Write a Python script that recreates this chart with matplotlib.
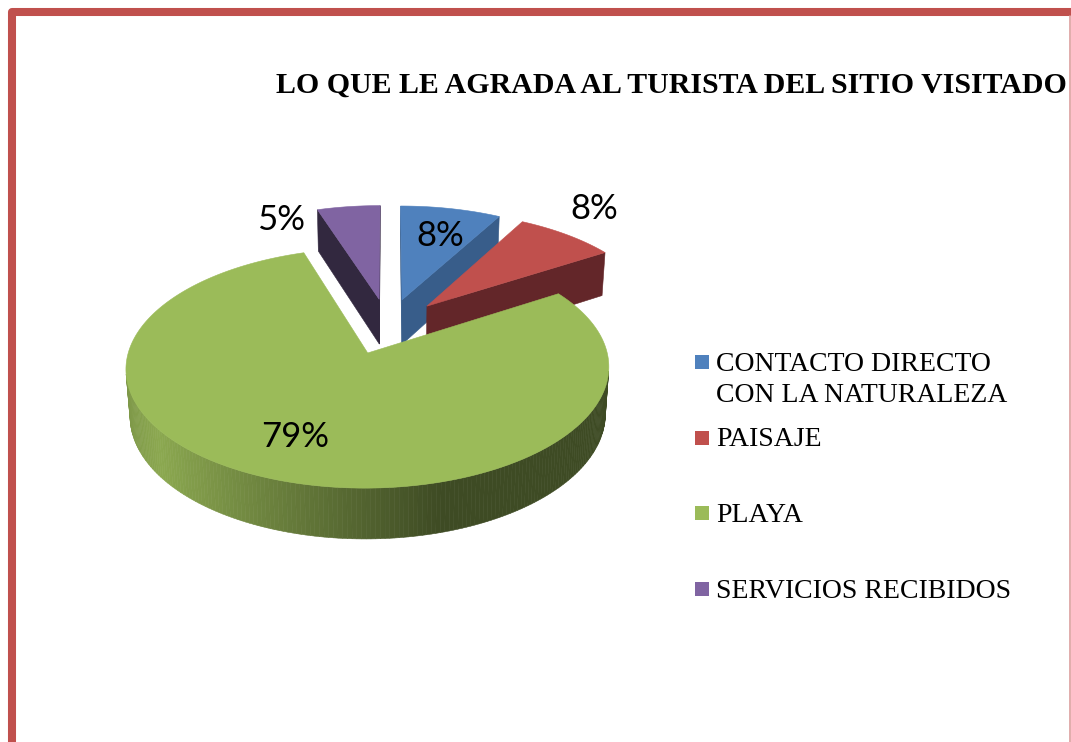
import numpy as np
import matplotlib.pyplot as plt
from matplotlib.patches import Polygon, Rectangle
from matplotlib.lines import Line2D
from matplotlib.colors import to_rgb


titulo = 'LO QUE LE AGRADA AL TURISTA DEL SITIO VISITADO'
categorias = ['CONTACTO DIRECTO\nCON LA NATURALEZA', 'PAISAJE', 'PLAYA', 'SERVICIOS RECIBIDOS']
porcentajes = [8, 8, 79, 5]

colores = ['#4F81BD', '#C0504D', '#9BBB59', '#8064A2']
colores_corte = ['#385D8A', '#632629', '#6E8A3A', '#32283F']
# posicion de la etiqueta: radio y giro (grados) respecto al angulo medio
pos_etiqueta = [(0.68, -1.5), (1.33, 3.6), (0.71, -2.6), (0.96, 21)]

# camara del pastel 3d (pixeles)
CX, CY = 388, 326
F, D = 1663, 7.15
PHI = np.radians(28.6)
ALTO = 0.227
SEPARACION = 0.25


def proyectar(X, Y, Z):
    X = np.asarray(X, float)
    Y = np.asarray(Y, float)
    Z = np.asarray(Z, float)
    d = D + Y * np.cos(PHI) - Z * np.sin(PHI)
    yv = Y * np.sin(PHI) + Z * np.cos(PHI)
    return CX + F * X / d, CY - F * yv / d


def area(xs, ys):
    xs = np.asarray(xs)
    ys = np.asarray(ys)
    return 0.5 * np.sum(xs * np.roll(ys, -1) - np.roll(xs, -1) * ys)


def cara(ax, X, Y, Z, color, forzar=False):
    xs, ys = proyectar(X, Y, Z)
    if forzar or area(xs, ys) > 0:
        ax.add_patch(Polygon(np.column_stack([xs, ys]), closed=True,
                             facecolor=color, edgecolor=color, lw=0.4))


def sombra(t):
    # luz desde la izquierda: pared clara a la izquierda, oscura a la derecha
    return np.interp(np.cos(t), [-1, -0.8, 0.28, 1], [0.8, 0.9, 0.40, 0.40])


def dibujar_porcion(ax, i, a, b):
    mid = np.radians((a + b) / 2)
    ox, oy = SEPARACION * np.cos(mid), SEPARACION * np.sin(mid)
    n = max(2, int(abs(b - a)) + 1)
    ts = np.radians(np.linspace(a, b, n))
    rx, ry = ox + np.cos(ts), oy + np.sin(ts)
    base = np.array(to_rgb(colores[i]))

    # pared exterior con sombreado
    for j in range(n - 1):
        tm = (ts[j] + ts[j + 1]) / 2
        col = np.clip(base * sombra(tm), 0, 1)
        cara(ax, [rx[j], rx[j + 1], rx[j + 1], rx[j]],
             [ry[j], ry[j + 1], ry[j + 1], ry[j]],
             [0, 0, -ALTO, -ALTO], col)

    # caras de corte
    cara(ax, [ox, rx[0], rx[0], ox], [oy, ry[0], ry[0], oy],
         [0, 0, -ALTO, -ALTO], colores_corte[i])
    cara(ax, [ox, ox, rx[-1], rx[-1]], [oy, oy, ry[-1], ry[-1]],
         [0, -ALTO, -ALTO, 0], colores_corte[i])

    # cara superior
    cara(ax, np.r_[ox, rx], np.r_[oy, ry], np.zeros(n + 1), colores[i], forzar=True)
    return ox, oy, mid


fig = plt.figure(figsize=(10.71, 7.42), dpi=100)
ax = fig.add_axes([0, 0, 1, 1])
ax.set_xlim(0, 1071)
ax.set_ylim(742, 0)
ax.axis('off')

fracciones = np.array(porcentajes) / np.sum(porcentajes)
acum = np.cumsum(fracciones)
fin = 90 - 360 * acum
inicio = 90 - 360 * np.r_[0, acum[:-1]]

medios = np.radians((fin + inicio) / 2)
orden = np.argsort(-np.sin(medios))

for i in orden:
    ox, oy, mid = dibujar_porcion(ax, i, fin[i], inicio[i])
    r, giro = pos_etiqueta[i]
    ang = mid + np.radians(giro)
    tx, ty = proyectar(ox + r * np.cos(ang), oy + r * np.sin(ang), 0)
    ax.text(tx, ty, '%d%%' % porcentajes[i], fontsize=25, family='Lato',
            ha='center', va='center', color='black')

# titulo
ax.text(671, 85, titulo, fontsize=21.5, weight='bold', family='Liberation Serif',
        ha='center', va='center')

# leyenda (el cuadro va alineado con la primera linea)
for i, (cat, col) in enumerate(zip(categorias, colores)):
    y = 362 + i * 75.5
    ax.add_patch(Rectangle((695, y - 7), 14, 14, facecolor=col, edgecolor='none'))
    for k, linea in enumerate(cat.split('\n')):
        ax.text(716, y + 9 + k * 31, linea, fontsize=20, family='Liberation Serif',
                ha='left', va='baseline')

# marco
ax.add_line(Line2D([12, 12, 1090], [760, 12, 12], color='#C0504D', lw=5.8,
                   solid_joinstyle='round', clip_on=False))
ax.add_line(Line2D([1069.5, 1069.5], [16, 760], color='#D99694', lw=1.1,
                   clip_on=False))

fig.savefig('out.png', dpi=100)
